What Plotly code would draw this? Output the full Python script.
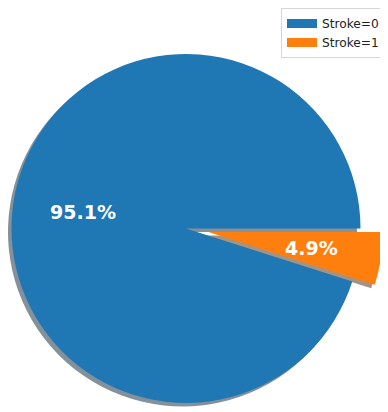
import math
import plotly.graph_objects as go

# ---- data ----
labels = ["Stroke=0", "Stroke=1"]
values = [95.1, 4.9]

# ---- style ----
colors = ["#1f77b4", "#ff7f0e"]
shadow_colors = ["rgba(9,36,54,0.5)", "rgba(77,38,4,0.5)"]
explode = [0.0, 0.13]
CLEAR = "rgba(0,0,0,0)"

W, H = 420, 412
PAGE = 8                                       # page body offset
CX, CY, R = 186 - PAGE, 228.5 - PAGE, 174.5    # pie centre / radius (px)
SH = 3.5                                       # shadow offset (px)


def domain(dx, dy):
    return dict(x=[max(0, (CX + dx - R) / W), min(1, (CX + dx + R) / W)],
                y=[max(0, 1 - (CY + dy + R) / H), min(1, 1 - (CY + dy - R) / H)])


total = sum(values)
mids, start = [], 0.0
for v in values:
    a1 = start + 360.0 * v / total
    mids.append((start + a1) / 2.0)
    start = a1

offsets = []
for m, e in zip(mids, explode):
    offsets.append((e * R * math.cos(math.radians(m)), -e * R * math.sin(math.radians(m))))

# first slice starts at 3 o'clock and runs counter-clockwise
rotation = 90 + 360.0 * (1 - values[0] / total)

fig = go.Figure()


def add_pie(cols, dx, dy):
    fig.add_trace(go.Pie(
        labels=labels, values=values, sort=False, direction="counterclockwise",
        rotation=rotation, marker=dict(colors=cols, line=dict(width=0)),
        textinfo="none", hoverinfo="skip", showlegend=False,
        domain=domain(dx, dy)))


# shadows first
for i in range(len(values)):
    cols = [shadow_colors[j] if j == i else CLEAR for j in range(len(values))]
    add_pie(cols, offsets[i][0] - SH, offsets[i][1] + SH)
# wedges
for i in range(len(values)):
    cols = [colors[j] if j == i else CLEAR for j in range(len(values))]
    add_pie(cols, offsets[i][0], offsets[i][1])

# legend entries
for lab, c in zip(labels, colors):
    fig.add_trace(go.Scatter(x=[None], y=[None], mode="lines", name=lab,
                             line=dict(color=c, width=9), hoverinfo="skip"))

# percentage labels
for i, v in enumerate(values):
    dx, dy = offsets[i]
    px = CX + dx + 0.6 * R * math.cos(math.radians(mids[i]))
    py = CY + dy - 0.6 * R * math.sin(math.radians(mids[i]))
    fig.add_annotation(x=px / W, y=1 - py / H, xref="paper", yref="paper",
                       text=f"<b>{v:.1f}%</b>", showarrow=False,
                       xanchor="center", yanchor="middle",
                       font=dict(family="DejaVu Sans", size=19, color="white"))

fig.update_layout(
    width=W, height=H,
    margin=dict(l=0, r=0, t=0, b=0, autoexpand=False),
    paper_bgcolor="white", plot_bgcolor="white",
    xaxis=dict(visible=False), yaxis=dict(visible=False),
    font=dict(family="DejaVu Sans", color="#222222"),
    legend=dict(x=(281 - PAGE) / W, y=1, xanchor="left", yanchor="top",
                bordercolor="#d6d6d6", borderwidth=1,
                bgcolor="rgba(255,255,255,0.8)",
                font=dict(size=12.2, family="DejaVu Sans", color="#222222"),
                tracegroupgap=0),
)

fig.write_html("out.html")
